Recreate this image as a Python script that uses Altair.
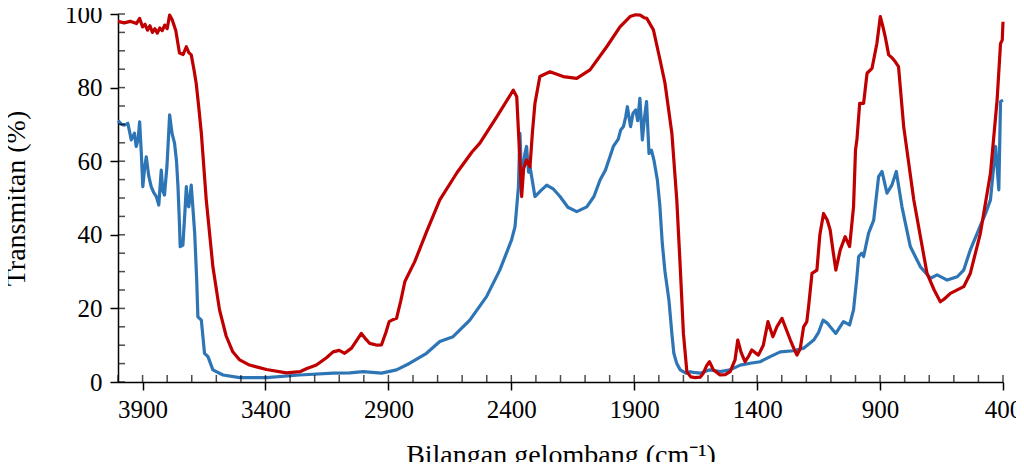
import altair as alt
import pandas as pd

# ---- data ----
red_wn = [4000, 3975, 3950, 3925, 3912, 3900, 3890, 3880, 3870, 3860, 3850, 3840, 3830, 3820, 3810, 3800,
          3790, 3780, 3765, 3750, 3735, 3722, 3712, 3702, 3690, 3682, 3672, 3661, 3641, 3614, 3587, 3560,
          3533, 3505, 3465, 3396, 3315, 3260, 3234, 3193, 3152, 3125, 3100, 3078, 3050, 3010, 2990, 2976,
          2945, 2928, 2910, 2897, 2880, 2867, 2850, 2833, 2793, 2745, 2691, 2620, 2560, 2528, 2460, 2392,
          2378, 2365, 2358, 2350, 2338, 2324, 2314, 2304, 2284, 2243, 2189, 2134, 2080, 2012, 1958, 1917,
          1895, 1876, 1860, 1849, 1822, 1795, 1775, 1747, 1727, 1713, 1700, 1686, 1670, 1652, 1632, 1619,
          1605, 1594, 1578, 1551, 1530, 1510, 1490, 1479, 1465, 1449, 1435, 1422, 1395, 1375, 1356, 1336,
          1320, 1299, 1280, 1265, 1250, 1238, 1225, 1211, 1198, 1190, 1177, 1157, 1145, 1130, 1115, 1103,
          1090, 1080, 1062, 1042, 1024, 1008, 1000, 994, 983, 967, 953, 933, 913, 899, 890, 879, 865, 850,
          838, 825, 804, 763, 709, 680, 655, 640, 614, 560, 533, 492, 451, 424, 410, 403, 400]
red_t = [98.0, 97.6, 98.0, 97.4, 98.8, 96.5, 97.2, 95.6, 96.8, 95.0, 96.0, 94.8, 96.2, 95.5, 97.0, 96.0,
         99.7, 98.5, 95.5, 89.4, 89.0, 91.1, 89.5, 88.9, 84.5, 81.2, 75.0, 67.6, 49.5, 31.3, 19.6, 12.5,
         8.2, 6.0, 4.6, 3.4, 2.5, 2.8, 3.6, 4.6, 6.6, 8.2, 8.6, 7.8, 9.2, 13.2, 11.5, 10.5,
         10.0, 10.1, 13.5, 16.4, 17.0, 17.3, 22.0, 27.3, 32.7, 40.8, 49.5, 57.0, 62.5, 64.9, 72.0, 79.3,
         77.5, 60.0, 50.4, 58.0, 60.3, 58.5, 68.0, 75.7, 83.0, 84.3, 83.0, 82.5, 84.8, 91.1, 96.5, 99.3,
         99.8, 99.7, 99.0, 98.8, 95.7, 87.5, 81.2, 67.6, 49.5, 31.3, 13.2, 2.8, 1.4, 1.2, 1.3, 2.4,
         4.5, 5.5, 3.3, 1.9, 2.0, 2.8, 6.0, 11.4, 8.0, 5.5, 7.0, 8.7, 7.3, 10.0, 16.4, 12.3,
         15.0, 17.3, 14.0, 11.4, 9.0, 7.3, 9.0, 15.0, 16.4, 21.0, 29.5, 30.4, 40.0, 45.8, 44.0, 41.3,
         35.0, 30.4, 35.9, 39.5, 36.8, 47.6, 63.0, 66.0, 75.7, 75.7, 83.9, 85.2, 92.0, 99.3, 97.0, 93.8, 88.9, 88.0,
         87.0, 85.7, 69.4, 49.5, 29.5, 25.0, 21.8, 22.5, 24.1, 25.9, 29.5, 40.4, 56.7, 76.6, 92.0, 92.9, 97.9]

blue_wn = [4000, 3985, 3974, 3960, 3946, 3933, 3926, 3918, 3912, 3905, 3899, 3892, 3885, 3875, 3865, 3855,
           3844, 3834, 3829, 3824, 3818, 3811, 3801, 3795, 3790, 3780, 3770, 3762, 3756, 3750, 3747, 3736,
           3728, 3722, 3717, 3712, 3702, 3695, 3688, 3680, 3675, 3661, 3648, 3634, 3614, 3573, 3505, 3396,
           3261, 3125, 3057, 3003, 2928, 2867, 2813, 2745, 2691, 2637, 2569, 2501, 2447, 2399, 2385, 2371,
           2365, 2358, 2351, 2345, 2338, 2330, 2324, 2304, 2280, 2256, 2230, 2202, 2170, 2134, 2093, 2064,
           2039, 2017, 1985, 1965, 1955, 1944, 1935, 1928, 1915, 1905, 1894, 1886, 1877, 1867, 1858, 1850,
           1840, 1830, 1820, 1806, 1796, 1786, 1775, 1759, 1747, 1739, 1727, 1713, 1690, 1673, 1659, 1632,
           1592, 1551, 1510, 1469, 1428, 1388, 1347, 1306, 1252, 1211, 1170, 1150, 1132, 1115, 1103, 1080,
           1049, 1024, 1008, 995, 987, 975, 967, 947, 926, 906, 892, 872, 852, 834, 811, 777,
           736, 695, 668, 627, 586, 560, 533, 505, 471, 451, 430, 417, 410, 400]
blue_t = [71.0, 70.0, 69.8, 70.3, 65.8, 67.6, 64.0, 66.0, 70.7, 62.0, 53.1, 58.0, 61.2, 56.0, 53.1, 51.5,
          50.4, 48.1, 53.0, 57.6, 52.0, 50.8, 58.5, 66.0, 72.6, 67.5, 64.9, 60.0, 53.1, 43.0, 36.8, 37.2,
          46.0, 53.1, 48.0, 47.6, 53.5, 47.0, 40.4, 28.0, 17.7, 16.8, 7.8, 6.9, 3.3, 1.9, 1.2, 1.2,
          1.9, 2.4, 2.5, 2.8, 2.4, 3.3, 5.1, 7.8, 11.0, 12.3, 16.8, 23.2, 30.4, 38.6, 42.2, 53.1,
          67.6, 55.0, 58.5, 62.0, 64.0, 57.0, 58.5, 50.4, 52.0, 53.5, 52.5, 50.4, 47.5, 46.3, 47.6, 50.4,
          54.9, 57.6, 64.0, 66.0, 68.5, 69.4, 72.0, 74.8, 69.4, 73.0, 73.9, 71.0, 77.1, 65.8, 72.0, 76.2,
          62.1, 63.0, 60.3, 54.9, 48.0, 37.7, 30.0, 22.3, 13.2, 7.8, 5.0, 3.3, 2.4, 2.8, 2.6, 2.4,
          3.3, 2.8, 3.3, 4.6, 5.1, 5.5, 6.9, 8.2, 8.5, 9.2, 11.4, 13.5, 16.8, 16.0, 15.0, 13.2,
          16.4, 15.5, 19.6, 28.0, 34.1, 35.0, 34.1, 40.4, 44.0, 55.8, 57.2, 51.3, 53.5, 57.2, 47.6, 36.8,
          31.3, 28.2, 29.1, 27.7, 28.6, 30.4, 35.9, 40.4, 45.8, 49.5, 64.0, 52.2, 76.2, 76.6]

x_major = [3900, 3400, 2900, 2400, 1900, 1400, 900, 400]
x_minor = [4000, 3900, 3800, 3700, 3600, 3500, 3400, 3300, 3200, 3100, 3000, 2900, 2800, 2700, 2600,
           2500, 2400, 2300, 2200, 2100, 2000, 1900, 1800, 1700, 1600, 1500, 1400, 1300, 1200, 1100,
           1000, 900, 800, 700, 600, 500, 400]
y_major = [0, 20, 40, 60, 80, 100]
y_minor = [0, 5, 10, 15, 20, 25, 30, 35, 40, 45, 50, 55, 60, 65, 70, 75, 80, 85, 90, 95, 100]

red_df = pd.DataFrame({"wn": red_wn, "t": red_t})
blue_df = pd.DataFrame({"wn": blue_wn, "t": blue_t})
xminor_df = pd.DataFrame({"wn": x_minor})
yminor_df = pd.DataFrame({"t": y_minor})

W, H = 885, 368
FONT = "Liberation Serif"
xscale = alt.Scale(domain=[400, 4000], reverse=True, nice=False, zero=False)
yscale = alt.Scale(domain=[0, 100], nice=False, zero=False)

main_x = alt.Axis(values=x_major, orient="bottom", format="d", title="Bilangan gelombang (cm⁻¹)",
                  grid=False, tickSize=8, tickWidth=1.5, tickColor="black", domainColor="black",
                  domainWidth=1.5, labelFont=FONT, labelFontSize=25, labelColor="black", labelPadding=7,
                  labelFlush=False, titleFont=FONT, titleFontSize=28, titleFontWeight="normal",
                  titleColor="black", titlePadding=19)
main_y = alt.Axis(values=y_major, orient="left", format="d", title="Transmitan (%)", grid=False,
                  tickSize=8, tickWidth=1.5, tickColor="black", domainColor="black", domainWidth=1.5,
                  labelFont=FONT, labelFontSize=25, labelColor="black", labelPadding=8,
                  titleFont=FONT, titleFontSize=28, titleFontWeight="normal", titleColor="black",
                  titlePadding=34)

X = alt.X("wn:Q", scale=xscale, axis=main_x)
Y = alt.Y("t:Q", scale=yscale, axis=main_y)

# inward tick marks (minor + inner half of major) drawn at axis values
x_ticks = alt.Chart(xminor_df).mark_tick(color="black", thickness=1.5, size=7, orient="vertical").encode(
    x=X,
    y=alt.value(H - 3.5),
)
y_ticks = alt.Chart(yminor_df).mark_tick(color="black", thickness=1.5, size=7, orient="horizontal").encode(
    y=Y,
    x=alt.value(3.5),
)
blue_line = alt.Chart(blue_df).mark_line(color="#2E75B6", strokeWidth=3.2, strokeJoin="round").encode(
    x=X, y=Y, order="idx:Q",
).transform_window(idx="row_number()")
red_line = alt.Chart(red_df).mark_line(color="#C00000", strokeWidth=3.2, strokeJoin="round").encode(
    x=X, y=Y, order="idx:Q",
).transform_window(idx="row_number()")

chart = alt.layer(blue_line, red_line, x_ticks, y_ticks).properties(
    width=W, height=H,
    padding={"left": 110, "top": 6, "right": 13, "bottom": 80},
    autosize=alt.AutoSizeParams(type="none"),
).configure_view(strokeWidth=0)

chart.save("out.html", embed_options={"renderer": "svg", "actions": False})
